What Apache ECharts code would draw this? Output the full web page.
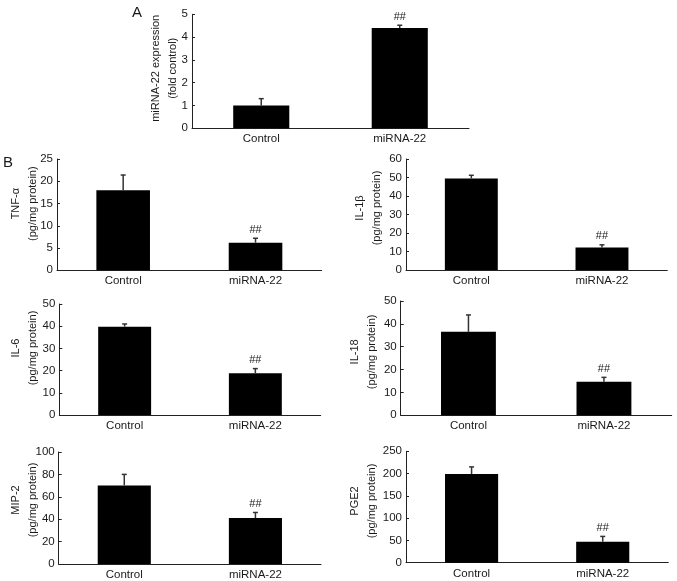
<!DOCTYPE html>
<html>
<head>
<meta charset="utf-8">
<script src="https://cdn.jsdelivr.net/npm/echarts@6/dist/echarts.min.js"></script>
<style>
html,body{margin:0;padding:0;background:#fff;}
#chart{width:677px;height:581px;}
</style>
</head>
<body>
<div id="chart"></div>
<script>
// ---- data ----
const categories = ['Control', 'miRNA-22'];
const sigMarks = ['', '##'];

const mirnaMean = [1.0, 4.4];
const mirnaErr  = [0.3, 0.12];
const tnfMean   = [18.0, 6.2];
const tnfErr    = [3.4, 1.0];
const il1bMean  = [49.5, 12.2];
const il1bErr   = [1.7, 1.4];
const il6Mean   = [39.8, 18.8];
const il6Err    = [1.2, 2.1];
const il18Mean  = [36.5, 14.7];
const il18Err   = [7.4, 1.9];
const mip2Mean  = [70.2, 41.0];
const mip2Err   = [9.8, 5.0];
const pge2Mean  = [199, 47];
const pge2Err   = [16, 12];

const yNames = [
  'miRNA-22 expression\n(fold control)',
  'TNF-α\n(pg/mg protein)',
  'IL-1β\n(pg/mg protein)',
  'IL-6\n(pg/mg protein)',
  'IL-18\n(pg/mg protein)',
  'MIP-2\n(pg/mg protein)',
  'PGE2\n(pg/mg protein)'
];
const yMax      = [5, 25, 60, 50, 50, 100, 250];
const yInterval = [1, 5, 10, 10, 10, 20, 50];

// ---- layout ----
const FONT = '"Liberation Sans", Arial, sans-serif';
const TXT = '#1a1a1a';
const grids = [
  {left: 192,   top: 14.3,  width: 277,   height: 114},
  {left: 57,    top: 159,   width: 264.7, height: 111.3},
  {left: 406,   top: 159,   width: 261.3, height: 111},
  {left: 59.3,  top: 304,   width: 261.4, height: 111},
  {left: 400.7, top: 301,   width: 271,   height: 114.3},
  {left: 58.7,  top: 452,   width: 262.3, height: 112},
  {left: 406,   top: 451.3, width: 262.3, height: 111.4}
];
const nameGaps  = [10.2, 15.2, 20.8, 17.5, 20.5, 16.9, 25.8];
const nameShift = [3, 11, 6.5, 11.5, 6.3, 8, 6];

const means = [mirnaMean, tnfMean, il1bMean, il6Mean, il18Mean, mip2Mean, pge2Mean];
const errs  = [mirnaErr, tnfErr, il1bErr, il6Err, il18Err, mip2Err, pge2Err];

const axisLineStyle = {color: '#222', width: 1};

const option = {
  animation: false,
  backgroundColor: '#fff',
  textStyle: {fontFamily: FONT},
  title: [
    {text: 'A', left: 127, top: 0, textStyle: {fontFamily: FONT, fontSize: 15, fontWeight: 'normal', color: TXT}},
    {text: 'B', left: -2, top: 150, textStyle: {fontFamily: FONT, fontSize: 15, fontWeight: 'normal', color: TXT}}
  ],
  grid: [], xAxis: [], yAxis: [], series: []
};

grids.forEach((g, i) => {
  option.grid.push(Object.assign({containLabel: false}, g));
  option.xAxis.push({
    type: 'category', gridIndex: i, data: categories,
    boundaryGap: true,
    axisLine: {lineStyle: axisLineStyle},
    axisTick: {inside: true, length: 3, lineStyle: axisLineStyle},
    axisLabel: {color: TXT, fontSize: 11.5, fontFamily: FONT, margin: 5}
  });
  option.yAxis.push({
    type: 'value', gridIndex: i, min: 0, max: yMax[i], interval: yInterval[i],
    name: yNames[i], nameLocation: 'middle', nameGap: nameGaps[i],
    nameMoveOverlap: false,
    nameTextStyle: {color: TXT, fontSize: 11, fontFamily: FONT, lineHeight: 17,
      padding: [0, 0, 0, nameShift[i] * 2]},
    splitLine: {show: false},
    axisLine: {show: true, lineStyle: axisLineStyle},
    axisTick: {show: true, inside: true, length: 3, lineStyle: axisLineStyle},
    axisLabel: {color: TXT, fontSize: 11.5, fontFamily: FONT, margin: 4}
  });
  option.series.push({
    type: 'bar', xAxisIndex: i, yAxisIndex: i,
    data: means[i], barWidth: '40.5%',
    itemStyle: {color: '#000'}, z: 2
  });
  const m = means[i], e = errs[i];
  option.series.push({
    type: 'custom', xAxisIndex: i, yAxisIndex: i, z: 3,
    data: m.map((v, k) => [k, v, e[k]]),
    renderItem: function (params, api) {
      const x = api.value(0), mv = api.value(1), ev = api.value(2);
      const base = api.coord([x, mv]);
      const top = api.coord([x, mv + ev]);
      const cap = 5;
      const children = [
        {type: 'line', shape: {x1: base[0], y1: base[1], x2: top[0], y2: top[1]},
          style: {stroke: '#333', lineWidth: 1.5}},
        {type: 'line', shape: {x1: top[0] - cap / 2, y1: top[1], x2: top[0] + cap / 2, y2: top[1]},
          style: {stroke: '#333', lineWidth: 1.5}}
      ];
      const s = sigMarks[params.dataIndex];
      if (s) {
        children.push({type: 'text', x: top[0], y: top[1] - 3,
          style: {text: s, fill: TXT, font: '11px ' + FONT, textAlign: 'center', textVerticalAlign: 'bottom'}});
      }
      return {type: 'group', children: children};
    }
  });
});

const chart = echarts.init(document.getElementById('chart'), null, {renderer: 'canvas'});
chart.setOption(option);
</script>
</body>
</html>
